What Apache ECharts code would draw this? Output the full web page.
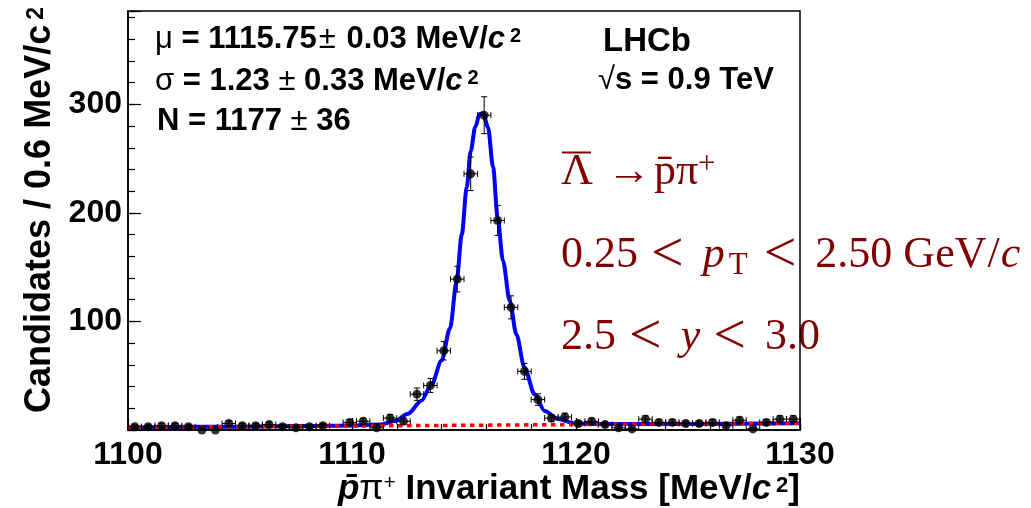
<!DOCTYPE html>
<html><head><meta charset="utf-8">
<script src="https://cdn.jsdelivr.net/npm/echarts@6/dist/echarts.min.js"></script>
<style>html,body{margin:0;padding:0;background:#fff}#c{width:1031px;height:508px}</style>
</head><body><div id="c"></div>
<script>
// ---- data ----
const binCenters = [1100.3,1100.9,1101.5,1102.1,1102.7,1103.3,1103.9,1104.5,1105.1,1105.7,
  1106.3,1106.9,1107.5,1108.1,1108.7,1109.3,1109.9,1110.5,1111.1,1111.7,
  1112.3,1112.9,1113.5,1114.1,1114.7,1115.3,1115.9,1116.5,1117.1,1117.7,
  1118.3,1118.9,1119.5,1120.1,1120.7,1121.3,1121.9,1122.5,1123.1,1123.7,
  1124.3,1124.9,1125.5,1126.1,1126.7,1127.3,1127.9,1128.5,1129.1,1129.7];
const counts = [3,3,4,4,3,0,0,6,4,4,
  5,3,2,3,4,null,7,8,2,11,
  8,33,41,73,139,236,290,193,113,54,
  28,11,12,6,8,5,2,1,10,7,
  7,6,6,7,4,9,1,7,10,10];
const errors = [1.7,1.7,2,2,1.7,1.1,1.1,2.4,2,2,
  2.2,1.7,1.4,1.7,2,null,2.6,2.8,1.4,3.3,
  2.8,5.7,6.4,8.5,11.8,15.4,17,13.9,10.6,7.3,
  5.3,3.3,3.5,2.4,2.8,2.2,1.4,1,3.2,2.6,
  2.6,2.4,2.4,2.6,2,3,1,2.6,3.2,3.2];
const binHalfWidth = 0.3;
const fitX = [1100,1105,1108,1110,1111.25,1111.92,1112.5,1113.1,1113.55,1114.0,1114.38,1114.67,1114.9,1115.12,1115.3,1115.5,1115.7,1115.85,1116.07,1116.3,1116.5,1116.74,1117.04,1117.34,1117.7,1118.15,1118.6,1119.2,1119.94,1120.5,1121.5,1125,1130];
const fitY = [2.4,3.1,3.6,4.2,5.0,8.2,15,27,42,64,94,137,180,223,257,279,291,292,279,242,196,156,119,88,57.5,33,17.5,10.2,6.2,5.7,5.5,5.6,6.3];
const bkgX = [1100,1130];
const bkgY = [2.4,6.3];
const xTickLabels = [1100,1110,1120,1130];
const yTickLabels = [100,200,300];

// ---- chart ----
const SANS = "'Liberation Sans', Arial, Helvetica, sans-serif";
const SERIF = "'Liberation Serif', 'Times New Roman', serif";
const RED = '#800000';
const chart = echarts.init(document.getElementById('c'), null, {renderer:'canvas'});

const sansRich = (fs) => ({
  b:{fontFamily:SANS,fontWeight:'bold',fontSize:fs,fill:'#000',lineHeight:fs+4},
  r:{fontFamily:SANS,fontWeight:'normal',fontSize:fs,fill:'#000',lineHeight:fs+4},
  pm:{fontFamily:SANS,fontWeight:'normal',fontSize:fs,fill:'#000',lineHeight:fs+4,padding:[0,2,0,2]},
  bi:{fontFamily:SANS,fontWeight:'bold',fontStyle:'italic',fontSize:fs,fill:'#000',lineHeight:fs+4},
  sup:{fontFamily:SANS,fontWeight:'bold',fontSize:Math.round(fs*0.63),fill:'#000',verticalAlign:'top',height:Math.round(fs*0.93),lineHeight:Math.round(fs*0.93),padding:[0,0,0,5]},
  supr:{fontFamily:SANS,fontWeight:'normal',fontSize:Math.round(fs*0.6),fill:'#000',verticalAlign:'top',height:Math.round(fs*0.8),lineHeight:Math.round(fs*0.8)}
});
const serifRich = {
  n:{fontFamily:SERIF,fontSize:44,fill:RED,lineHeight:50},
  i:{fontFamily:SERIF,fontStyle:'italic',fontSize:44,fill:RED,lineHeight:50},
  ip:{fontFamily:SERIF,fontStyle:'italic',fontSize:44,fill:RED,lineHeight:50,padding:[0,4,0,0]},
  sl:{fontFamily:SERIF,fontSize:44,fill:RED,lineHeight:50,padding:[0,1,0,1]},
  op:{fontFamily:SERIF,fontSize:58,fill:RED,lineHeight:50,padding:[0,19,0,13]},
  arr:{fontFamily:SERIF,fontSize:44,fill:RED,lineHeight:50,padding:[0,3,0,14]},
  sub:{fontFamily:SERIF,fontSize:31,fill:RED,verticalAlign:'bottom',height:29,lineHeight:29,padding:[0,3,0,0]},
  sup:{fontFamily:SERIF,fontSize:31,fill:RED,verticalAlign:'top',height:34,lineHeight:34}
};
function txt(x,y,text,rich,opts){
  opts = opts || {};
  return {type:'text',x:x,y:y,silent:true,z:opts.z!=null?opts.z:10,rotation:opts.rotation||0,
    style:{text:text,rich:rich,align:opts.align||'left',verticalAlign:'middle'}};
}

const points = binCenters.map((x,i)=>[x,counts[i],errors[i]]).filter(p=>p[1]!=null);

const xBase = {type:'value',min:1100,max:1130,position:'bottom',splitLine:{show:false}};
const yBase = {type:'value',min:0,max:386,position:'left',splitLine:{show:false}};
const labelFont = {fontFamily:SANS,fontWeight:'bold',fontSize:32,color:'#000'};

chart.setOption({
  animation:false,
  backgroundColor:'#fff',
  grid:{left:128,right:231,top:11,bottom:78,show:true,borderColor:'#000',borderWidth:1.5,backgroundColor:'transparent',outerBoundsMode:'none'},
  xAxis:[
    Object.assign({},xBase,{interval:2,
      axisLine:{show:true,onZero:false,lineStyle:{color:'#000',width:1.5}},
      axisTick:{show:true,inside:true,length:6,lineStyle:{color:'#000',width:1.2}},
      axisLabel:Object.assign({margin:9,formatter:v=>xTickLabels.some(t=>Math.abs(t-v)<1e-6)?String(Math.round(v)):''},labelFont)}),
    Object.assign({},xBase,{interval:10,
      axisLine:{show:false},
      axisTick:{show:true,inside:true,length:12,lineStyle:{color:'#000',width:1.2}},
      axisLabel:{show:false}})
  ],
  yAxis:[
    Object.assign({},yBase,{interval:20,
      axisLine:{show:true,onZero:false,lineStyle:{color:'#000',width:1.5}},
      axisTick:{show:true,inside:true,length:7,lineStyle:{color:'#000',width:1.2}},
      axisLabel:Object.assign({margin:6,formatter:v=>yTickLabels.some(t=>Math.abs(t-v)<1e-6)?String(Math.round(v)):''},labelFont)}),
    Object.assign({},yBase,{interval:100,
      axisLine:{show:false},
      axisTick:{show:true,inside:true,length:13,lineStyle:{color:'#000',width:1.2}},
      axisLabel:{show:false}})
  ],
  series:[
    {type:'line',name:'fit',data:fitX.map((x,i)=>[x,fitY[i]]),smooth:0.3,smoothMonotone:'x',symbol:'none',
     lineStyle:{color:'#0000ff',width:4},z:2,silent:true,clip:true},
    {type:'line',name:'background',data:bkgX.map((x,i)=>[x,bkgY[i]]),symbol:'none',
     lineStyle:{color:'#ff0000',width:3.5,type:[4.5,4.5]},z:3,silent:true},
    {type:'custom',name:'errors',data:points,z:4,silent:true,clip:true,
     renderItem:function(params,api){
       const x=api.value(0),y=api.value(1),e=api.value(2);
       const top=api.coord([x,y+e]),bot=api.coord([x,y-e]);
       const l=api.coord([x-binHalfWidth,y]),r=api.coord([x+binHalfWidth,y]);
       const st={stroke:'#000',lineWidth:1};
       const c=3;
       return {type:'group',children:[
         {type:'line',shape:{x1:top[0],y1:top[1],x2:bot[0],y2:bot[1]},style:st},
         {type:'line',shape:{x1:top[0]-c,y1:top[1],x2:top[0]+c,y2:top[1]},style:st},
         {type:'line',shape:{x1:bot[0]-c,y1:bot[1],x2:bot[0]+c,y2:bot[1]},style:st},
         {type:'line',shape:{x1:l[0],y1:l[1],x2:r[0],y2:r[1]},style:st},
         {type:'line',shape:{x1:l[0],y1:l[1]-c,x2:l[0],y2:l[1]+c},style:st},
         {type:'line',shape:{x1:r[0],y1:r[1]-c,x2:r[0],y2:r[1]+c},style:st}
       ]};
     }},
    {type:'scatter',name:'data',data:points.map(p=>[p[0],p[1]]),symbol:'circle',symbolSize:9,
     itemStyle:{color:'#000'},z:5,silent:true}
  ],
  graphic:[
    txt(155,39.5,'{r|μ}{b| = 1115.75}{pm|±}{b| 0.03 MeV/}{bi|c}{sup|2}',sansRich(31)),
    txt(155,81.5,'{r|σ}{b| = 1.23 }{r|±}{b| 0.33 MeV/}{bi|c}{sup|2}',sansRich(31)),
    txt(157,121.5,'{b|N = 1177 }{r|±}{b| 36}',sansRich(31)),
    txt(603,42,'{b|LHCb}',sansRich(33)),
    txt(598,80.5,'{r|√}{b|s = 0.9 TeV}',sansRich(31)),
    txt(561,172.6,'{n|Λ}{arr|→}{n|p\u0304π}{sup|+}',serifRich,{z:-10}),
    {type:'line',silent:true,z:-10,shape:{x1:562,y1:152.5,x2:591,y2:152.5},style:{stroke:RED,lineWidth:2}},
    txt(561,255.6,'{n|0.25}{op|<}{ip|p}{sub|T}{op|<}{n|2.50 GeV}{sl|/}{i|c}',serifRich,{z:-10}),
    txt(561,337.6,'{n|2.5}{op|<}{i|y}{op|<}{n|3.0}',serifRich,{z:-10}),
    txt(40,210,'{b|Candidates / 0.6 MeV/c}{sup|2}',sansRich(36),{rotation:Math.PI/2,align:'center'}),
    txt(800,489,'{bi|p\u0304}{r|π}{supr|+}{b| Invariant Mass [MeV/}{bi|c}{sup|2}{b|]}',sansRich(35),{align:'right'})
  ]
});
</script></body></html>
